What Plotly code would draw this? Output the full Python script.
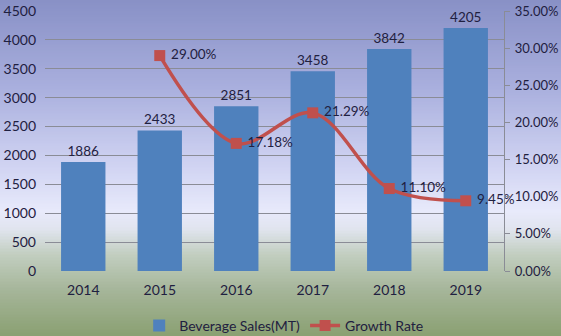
import plotly.graph_objects as go

years = ["2014", "2015", "2016", "2017", "2018", "2019"]
sales = [1886, 2433, 2851, 3458, 3842, 4205]
growth_years = ["2015", "2016", "2017", "2018", "2019"]
growth = [29.00, 17.18, 21.29, 11.10, 9.45]

W, H = 561, 336
L, R, T, B = 45, 57, 11, 65
pw, ph = W - L - R, H - T - B

# background gradient stops (pixel y from top, rgb)
stops = [(0, (136, 144, 198)), (90, (170, 176, 222)), (170, (210, 213, 243)),
         (212, (232, 234, 251)), (230, (224, 228, 238)), (255, (194, 206, 192)),
         (290, (166, 182, 154)), (336, (138, 160, 114))]

def col(y):
    for (y0, c0), (y1, c1) in zip(stops, stops[1:]):
        if y0 <= y <= y1:
            t = (y - y0) / (y1 - y0) if y1 > y0 else 0
            return "rgb(%d,%d,%d)" % tuple(round(a + (b - a) * t) for a, b in zip(c0, c1))
    return "rgb(%d,%d,%d)" % stops[-1][1]

shapes = []
step = 3
for y in range(0, H, step):
    py0 = 1 - (y + step - T) / ph
    py1 = 1 - (y - T) / ph
    shapes.append(dict(type="rect", xref="paper", yref="paper",
                       x0=-L / pw - 0.01, x1=1 + R / pw + 0.01, y0=py0 - 0.002, y1=py1 + 0.002,
                       fillcolor=col(y + step / 2), line=dict(width=0), layer="below"))

fig = go.Figure()
fig.add_trace(go.Bar(x=years, y=sales, name="Beverage Sales(MT)",
                     marker=dict(color="#4F81BD", line=dict(width=0)),
                     text=[str(v) for v in sales], textposition="outside",
                     textfont=dict(size=13.5, color="#1F2040"), cliponaxis=False))
fig.add_trace(go.Scatter(x=growth_years, y=growth, name="Growth Rate", yaxis="y2",
                         mode="lines+markers+text",
                         line=dict(color="#C0504D", width=3.5, shape="spline", smoothing=1.0),
                         marker=dict(symbol="square", size=11, color="#C0504D"),
                         text=[" %.2f%%" % v for v in growth], textposition="middle right",
                         textfont=dict(size=13.5, color="#1F2040"), cliponaxis=False))

fig.update_layout(
    width=W, height=H,
    margin=dict(l=L, r=R, t=T, b=B, autoexpand=False),
    paper_bgcolor="rgba(0,0,0,0)", plot_bgcolor="rgba(0,0,0,0)",
    font=dict(family="Lato, Open Sans, sans-serif", size=14, color="#1F2040"),
    shapes=shapes,
    bargap=0.42,
    xaxis=dict(showgrid=False, showline=False, ticks="", tickfont=dict(size=14),
               ticklabelstandoff=9),
    yaxis=dict(range=[0, 4500], dtick=500, showgrid=True, gridcolor="#8A8C96", gridwidth=1.3,
               zeroline=False, showline=False, ticks="", tickfont=dict(size=14),
               ticklabelstandoff=8),
    yaxis2=dict(range=[0, 35], dtick=5, overlaying="y", side="right", showgrid=False,
                zeroline=False, showline=True, linecolor="#8A8C96", linewidth=1.3,
                ticks="outside", ticklen=5, tickcolor="#8A8C96",
                tickformat=".2f", ticksuffix="%", tickfont=dict(size=13),
                ticklabelstandoff=2),
    legend=dict(orientation="h", x=0.52, xanchor="center", y=-0.15, yanchor="top",
                bgcolor="rgba(0,0,0,0)", font=dict(size=14), itemwidth=30),
    showlegend=True,
)

fig.write_html("out.html")
